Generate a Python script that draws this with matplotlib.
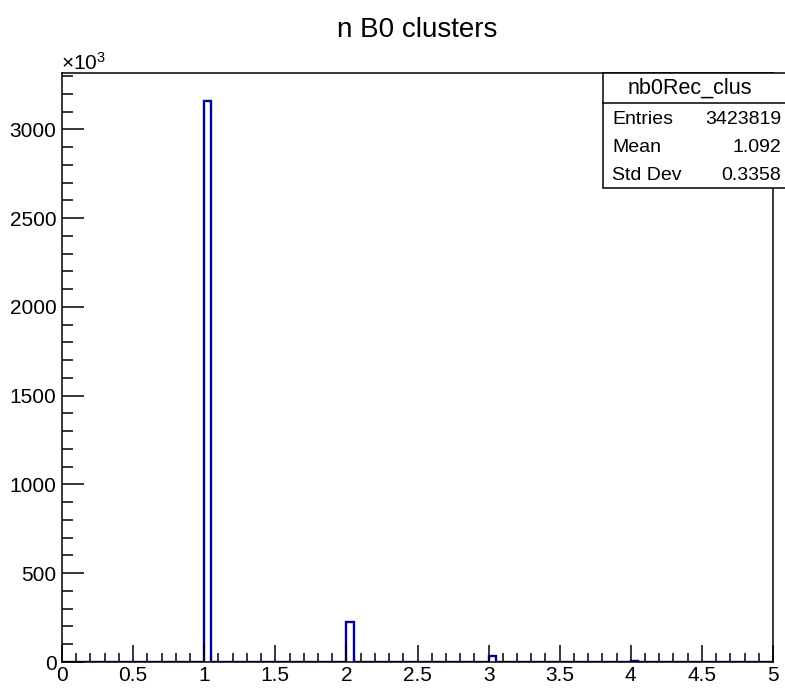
import numpy as np
import matplotlib
matplotlib.use("Agg")
import matplotlib.pyplot as plt
from matplotlib.patches import Rectangle
from matplotlib.ticker import MultipleLocator

plt.rcParams['font.family'] = ['Liberation Sans', 'DejaVu Sans']
plt.rcParams['mathtext.fontset'] = 'custom'
plt.rcParams['mathtext.rm'] = 'Liberation Sans'
plt.rcParams['mathtext.it'] = 'Liberation Sans'

# ---- data ----
title = "n B0 clusters"
hist_name = "nb0Rec_clus"
n_values = [1, 2, 3, 4]            # number of clusters
counts_k = [3160, 226, 34, 4]      # entries (x10^3)
n_bins = 100
x_range = (0, 5)
stats_labels = ["Entries", "Mean", "Std Dev"]
stats_values = ["3423819", "1.092", "0.3358"]

tick_fs, stat_fs = 15, 14

W, H = 785, 689
fig = plt.figure(figsize=(W / 100, H / 100), dpi=100)
ax = fig.add_axes([62 / W, 1 - 662 / H, (773 - 62) / W, (662 - 73) / H])

counts, edges = np.histogram(np.array(n_values) + 0.01, bins=n_bins, range=x_range,
                             weights=counts_k)
color = '#000099'
ax.stairs(counts, edges, color=color, linewidth=1.7, baseline=0)

ax.set_xlim(*x_range)
ax.set_ylim(0, max(counts_k) * 1.05)

ax.xaxis.set_major_locator(MultipleLocator(0.5))
ax.xaxis.set_minor_locator(MultipleLocator(0.1))
ax.yaxis.set_major_locator(MultipleLocator(500))
ax.yaxis.set_minor_locator(MultipleLocator(100))
ax.xaxis.set_major_formatter(plt.FuncFormatter(lambda v, p: f"{v:g}"))
ax.yaxis.set_major_formatter(plt.FuncFormatter(lambda v, p: f"{v:g}"))

ax.tick_params(axis='both', which='both', direction='in', top=False, right=False,
               labelsize=tick_fs, width=1.1, color='black')
ax.tick_params(axis='y', which='major', length=16, pad=4)
ax.tick_params(axis='y', which='minor', length=8)
ax.tick_params(axis='x', which='major', length=12, pad=3)
ax.tick_params(axis='x', which='minor', length=6.5)
for s in ax.spines.values():
    s.set_linewidth(1.1)

# title
fig.text((62 + 773) / 2 / W, 1 - 30 / H, title, ha='center', va='center', fontsize=20)

# x10^3 exponent label
fig.text(61 / W, 1 - 70 / H, r"$\times\mathregular{10^{3}}$", ha='left', va='baseline',
         fontsize=15)

# stats box
bx0, bx1 = 603 / W, 1.02
by_top, by_bot, by_sep = 1 - 73 / H, 1 - 188 / H, 1 - 103 / H
fig.patches.append(Rectangle((bx0, by_bot), bx1 - bx0, by_top - by_bot,
                             transform=fig.transFigure, facecolor='white',
                             edgecolor='black', linewidth=1.1, zorder=5))
fig.add_artist(plt.Line2D([bx0, bx1], [by_sep, by_sep], transform=fig.transFigure,
                          color='black', linewidth=1.1, zorder=6))
fig.text(690 / W, 1 - 88 / H, hist_name, ha='center', va='center',
         fontsize=15.5, zorder=7)
ys = [119, 148, 176]
for lab, val, y in zip(stats_labels, stats_values, ys):
    fig.text(612 / W, 1 - y / H, lab, ha='left', va='center', fontsize=stat_fs, zorder=7)
    fig.text(781 / W, 1 - y / H, val, ha='right', va='center', fontsize=stat_fs, zorder=7)

fig.savefig("out.png", dpi=100)
